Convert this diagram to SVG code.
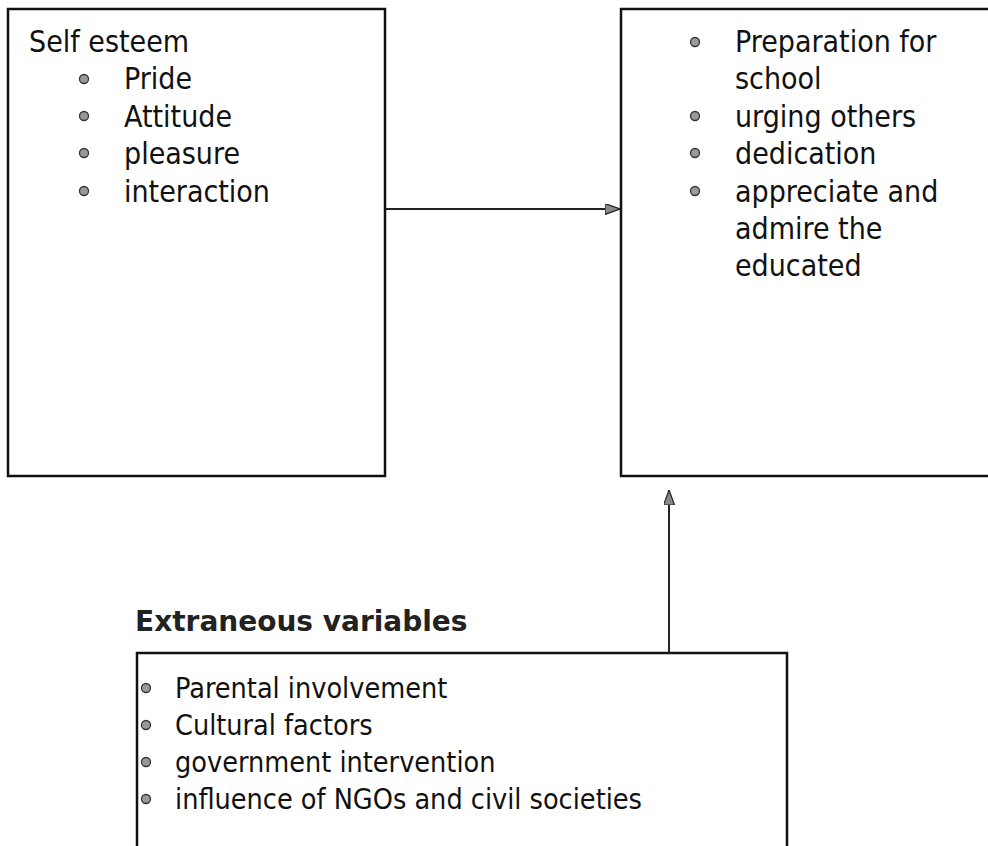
<svg xmlns="http://www.w3.org/2000/svg" width="988" height="846" viewBox="0 0 988 846">
<defs>
<style>
.box{fill:#fff;stroke:#111;stroke-width:2.5}
.t{font-family:"DejaVu Sans Condensed","DejaVu Sans",sans-serif;font-stretch:condensed;font-size:30px;fill:#111}
.tb{font-family:"DejaVu Sans Condensed","DejaVu Sans",sans-serif;font-stretch:condensed;font-size:28.5px;fill:#111}
.h{font-family:"DejaVu Sans","Liberation Sans",sans-serif;font-size:28px;font-weight:bold;fill:#222}
.b{fill:#999;stroke:#333;stroke-width:1.3}
.c{stroke:#222;stroke-width:2;fill:none}
</style>
<marker id="ah" viewBox="0 0 15 11" refX="15" refY="5.5" markerWidth="15" markerHeight="11" markerUnits="userSpaceOnUse" orient="auto">
<path d="M0,0 L15,5.5 L0,11 Z" fill="#888" stroke="#222" stroke-width="1.2"/>
</marker>
</defs>
<rect width="988" height="846" fill="#fff"/>
<g id="self-esteem">
<rect class="box" x="8" y="9" width="377" height="467"/>
<text class="t" x="29" y="52">Self esteem</text>
<circle class="b" cx="84" cy="79" r="4.5"/><text class="t" x="124" y="89">Pride</text>
<circle class="b" cx="84" cy="116" r="4.5"/><text class="t" x="124" y="127">Attitude</text>
<circle class="b" cx="84" cy="153" r="4.5"/><text class="t" x="124" y="164">pleasure</text>
<circle class="b" cx="84" cy="191" r="4.5"/><text class="t" x="124" y="202">interaction</text>
</g>
<g id="outcomes">
<rect class="box" x="621" y="9" width="380" height="467"/>
<circle class="b" cx="695" cy="42" r="4.5"/><text class="t" x="735" y="52">Preparation for</text>
<text class="t" x="735" y="89">school</text>
<circle class="b" cx="695" cy="116" r="4.5"/><text class="t" x="735" y="127">urging others</text>
<circle class="b" cx="695" cy="153" r="4.5"/><text class="t" x="735" y="164">dedication</text>
<circle class="b" cx="695" cy="191" r="4.5"/><text class="t" x="735" y="202">appreciate and</text>
<text class="t" x="735" y="239">admire the</text>
<text class="t" x="735" y="276">educated</text>
</g>
<g id="extraneous">
<text class="h" x="135" y="631">Extraneous variables</text>
<rect class="box" x="137" y="653" width="650" height="220"/>
<circle class="b" cx="146" cy="688" r="4.5"/><text class="tb" x="175" y="698">Parental involvement</text>
<circle class="b" cx="146" cy="725" r="4.5"/><text class="tb" x="175" y="735">Cultural factors</text>
<circle class="b" cx="146" cy="762" r="4.5"/><text class="tb" x="175" y="772">government intervention</text>
<circle class="b" cx="146" cy="799" r="4.5"/><text class="tb" x="175" y="809">influence of NGOs and civil societies</text>
</g>
<g id="connectors">
<line class="c" x1="386" y1="209" x2="620" y2="209" marker-end="url(#ah)"/>
<line class="c" x1="669" y1="653" x2="669" y2="490" marker-end="url(#ah)"/>
</g>
</svg>
